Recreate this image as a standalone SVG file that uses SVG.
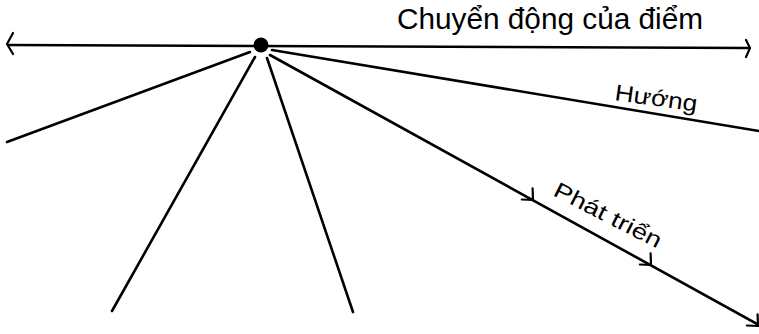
<svg xmlns="http://www.w3.org/2000/svg" width="759" height="334" viewBox="0 0 759 334">
<style>
.ln{stroke:#000;stroke-width:2.6;fill:none;stroke-linecap:round;stroke-linejoin:round}
.ah{stroke:#000;stroke-width:2.2;fill:none;stroke-linecap:round;stroke-linejoin:round}
.lbl{font-family:"Liberation Sans","DejaVu Sans",sans-serif;fill:#000}
</style>
<defs>
<path id="chev" d="M-6,-10 L0,0 L-10,5"/>
</defs>
<rect width="759" height="334" fill="#fff"/>
<g id="connectors">
<line class="ln" x1="9" y1="45" x2="749" y2="48"/>
<path class="ah" d="M13,33 L7,44 L13,54"/>
<path class="ah" d="M746,40 L750,48 L746,57"/>
<line class="ln" x1="250" y1="52" x2="7" y2="142"/>
<line class="ln" x1="255" y1="57" x2="112" y2="311"/>
<line class="ln" x1="267" y1="58" x2="353" y2="312"/>
<line class="ln" x1="272" y1="50" x2="759" y2="131"/>
<line class="ln" x1="270" y1="55" x2="759" y2="325"/>
<use href="#chev" class="ah" transform="translate(533,200) rotate(29)"/>
<use href="#chev" class="ah" transform="translate(651,265) rotate(29)"/>
<use href="#chev" class="ah" transform="translate(758,326) rotate(29)"/>
</g>
<g id="point">
<circle cx="261" cy="45" r="7.5" fill="#000"/>
</g>
<g id="label-motion">
<text class="lbl" x="397" y="29" font-size="30" textLength="306" lengthAdjust="spacingAndGlyphs">Chuyển động của điểm</text>
</g>
<g id="label-direction">
<text class="lbl" x="0" y="0" font-size="23" textLength="83" lengthAdjust="spacingAndGlyphs" transform="translate(614,100) rotate(8)">Hướng</text>
</g>
<g id="label-growth">
<text class="lbl" x="0" y="0" font-size="22" textLength="118" lengthAdjust="spacingAndGlyphs" transform="translate(552,195) rotate(27)">Phát triển</text>
</g>
</svg>
